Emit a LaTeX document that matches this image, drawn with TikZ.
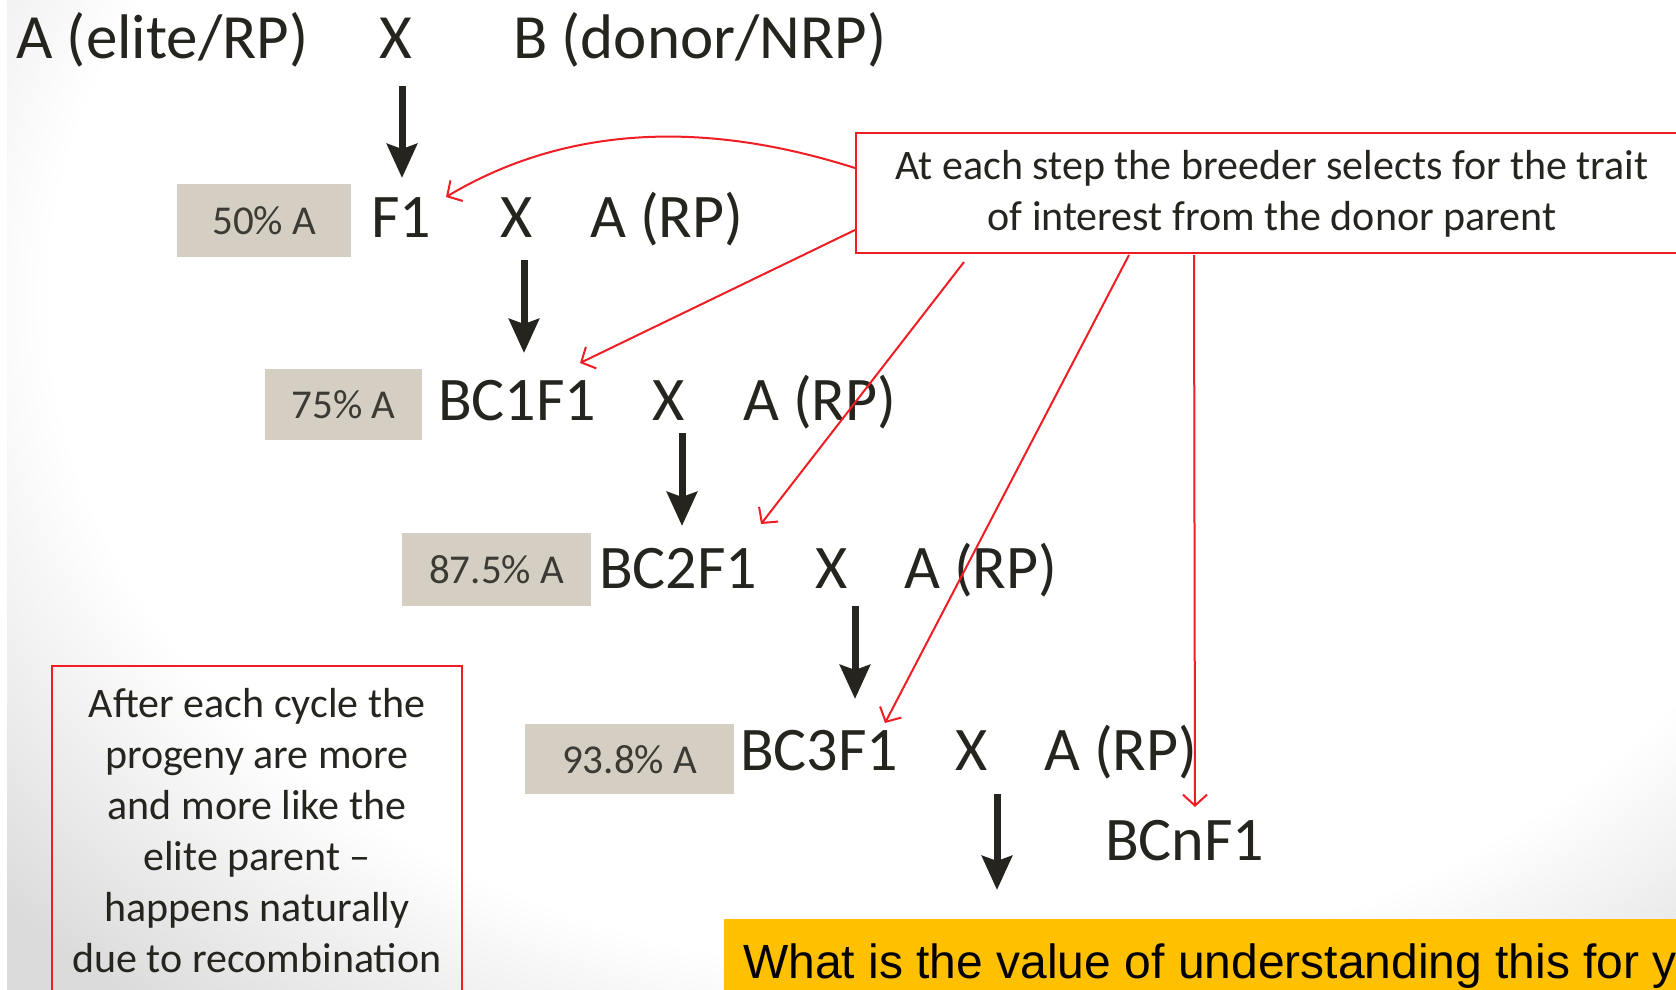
\documentclass[tikz,border=0pt]{standalone}
\usepackage{fontspec}
\setmainfont{Carlito}
\newfontfamily\barfont{Liberation Sans}
\usetikzlibrary{arrows.meta}
\definecolor{ink}{RGB}{38,36,30}
\definecolor{tanfill}{RGB}{212,207,194}
\definecolor{callred}{RGB}{240,30,36}
\definecolor{barfill}{RGB}{255,192,0}

% slide background: white centre, grey towards the edges
% (the path's bounding box maps onto the inner 25bp radius)
\pgfdeclareradialshading{slidebg}{\pgfpoint{0bp}{0bp}}{%
  color(0bp)=(white); color(11.25bp)=(white); color(15.5bp)=(black!14); color(50bp)=(black!14)}

\tikzset{
  gen/.style={font=\fontsize{62}{70}\selectfont, text=ink, anchor=base west, inner sep=0pt},
  pct/.style={fill=tanfill, text=ink!90, font=\fontsize{41}{48}\selectfont, inner sep=0pt, anchor=north west},
  down/.style={draw=ink, line width=7pt, -{Stealth[length=34pt, width=30pt, inset=5pt]}},
  note/.style={draw=callred, line width=2pt, -{Straight Barb[length=11pt, width=24pt, line width=2pt]}},
  notetext/.style={font=\fontsize{42}{51}\selectfont, text=ink, align=center, inner sep=0pt}
}

\begin{document}
\begin{tikzpicture}[x=1pt, y=-1pt]
\useasboundingbox (0,0) rectangle (1676,990);
\clip (0,0) rectangle (1676,990);

\fill[white] (0,0) rectangle (1676,990);
\shade[shading=slidebg] (950,300) ellipse [x radius=2000, y radius=1500];
\fill[white] (0,0) rectangle (7,990);

% header cross
\node[gen, font=\fontsize{63}{70}\selectfont] (pa) at (16,59) {A (elite/RP)};
\node[gen, font=\fontsize{63}{70}\selectfont] (x0) at (379,59) {X};
\node[gen, font=\fontsize{63}{70}\selectfont] (pb) at (513,59) {B (donor/NRP)};

% share of the recurrent parent
\node[pct, minimum width=174pt, minimum height=73pt] (p1) at (177,184) {50\% A};
\node[pct, minimum width=157pt, minimum height=71pt] (p2) at (265,369) {75\% A};
\node[pct, minimum width=189pt, minimum height=73pt] (p3) at (402,533) {87.5\% A};
\node[pct, minimum width=209pt, minimum height=70pt] (p4) at (525,724) {93.8\% A};

% generations
\node[gen] (g1) at (371,237) {F1};
\node[gen] (x1) at (500,237) {X};
\node[gen] (r1) at (590,237) {A (RP)};

\node[gen] (g2) at (438,420) {BC1F1};
\node[gen] (x2) at (652,420) {X};
\node[gen] (r2) at (743,420) {A (RP)};

\node[gen] (g3) at (599,588) {BC2F1};
\node[gen] (x3) at (815,588) {X};
\node[gen] (r3) at (904,588) {A (RP)};

\node[gen] (g4) at (740,770) {BC3F1};
\node[gen] (x4) at (955,770) {X};
\node[gen] (r4) at (1044,770) {A (RP)};

\node[gen] (gn) at (1105,860) {BCnF1};

% descent arrows
\coordinate (d1s) at (402,86);  \coordinate (d1e) at (402,178);
\coordinate (d2s) at (524,260); \coordinate (d2e) at (524,353);
\coordinate (d3s) at (682,433); \coordinate (d3e) at (682,526);
\coordinate (d4s) at (855,606); \coordinate (d4e) at (855,699);
\coordinate (d5s) at (997,794); \coordinate (d5e) at (997,890);
\draw[down] (d1s) -- (d1e);
\draw[down] (d2s) -- (d2e);
\draw[down] (d3s) -- (d3e);
\draw[down] (d4s) -- (d4e);
\draw[down] (d5s) -- (d5e);

% selection callout
\node[draw=callred, line width=2pt, minimum width=844pt, minimum height=120pt, inner sep=0pt, fill=white] (sel) at (1278,193) {};
\node[notetext] (seltext) at (1272,194) {At each step the breeder selects for the trait\\of interest from the donor parent};

\coordinate (t1) at (446,197);
\coordinate (t2) at (580,363);
\coordinate (t3) at (761,524);
\coordinate (t4) at (885,723);
\coordinate (t5) at (1195,807);
\draw[note] ([yshift=25pt]sel.west) .. controls (760,138) and (600,105) .. (t1);
\draw[note] ([yshift=-37pt]sel.west) -- (t2);
\draw[note] ([xshift=109pt, yshift=-8pt]sel.south west) -- (t3);
\draw[note] ([xshift=274pt, yshift=-1pt]sel.south west) -- (t4);
\draw[note] ([xshift=339pt, yshift=-1pt]sel.south west) -- (t5);

% recombination note
\draw[draw=callred, line width=2pt] (52,666) rectangle (462,1010);
\node[notetext, anchor=north] (rec) at (257,688) {After each cycle the\\progeny are more\\and more like the\\elite parent --\\happens naturally\\due to recombination};

% question bar
\fill[barfill] (724,919) rectangle (1690,1000);
\node[font=\barfont\fontsize{48}{56}\selectfont, text=black, anchor=base west, inner sep=0pt] (q) at (743,978) {What is the value of understanding this for you?};
\end{tikzpicture}
\end{document}
